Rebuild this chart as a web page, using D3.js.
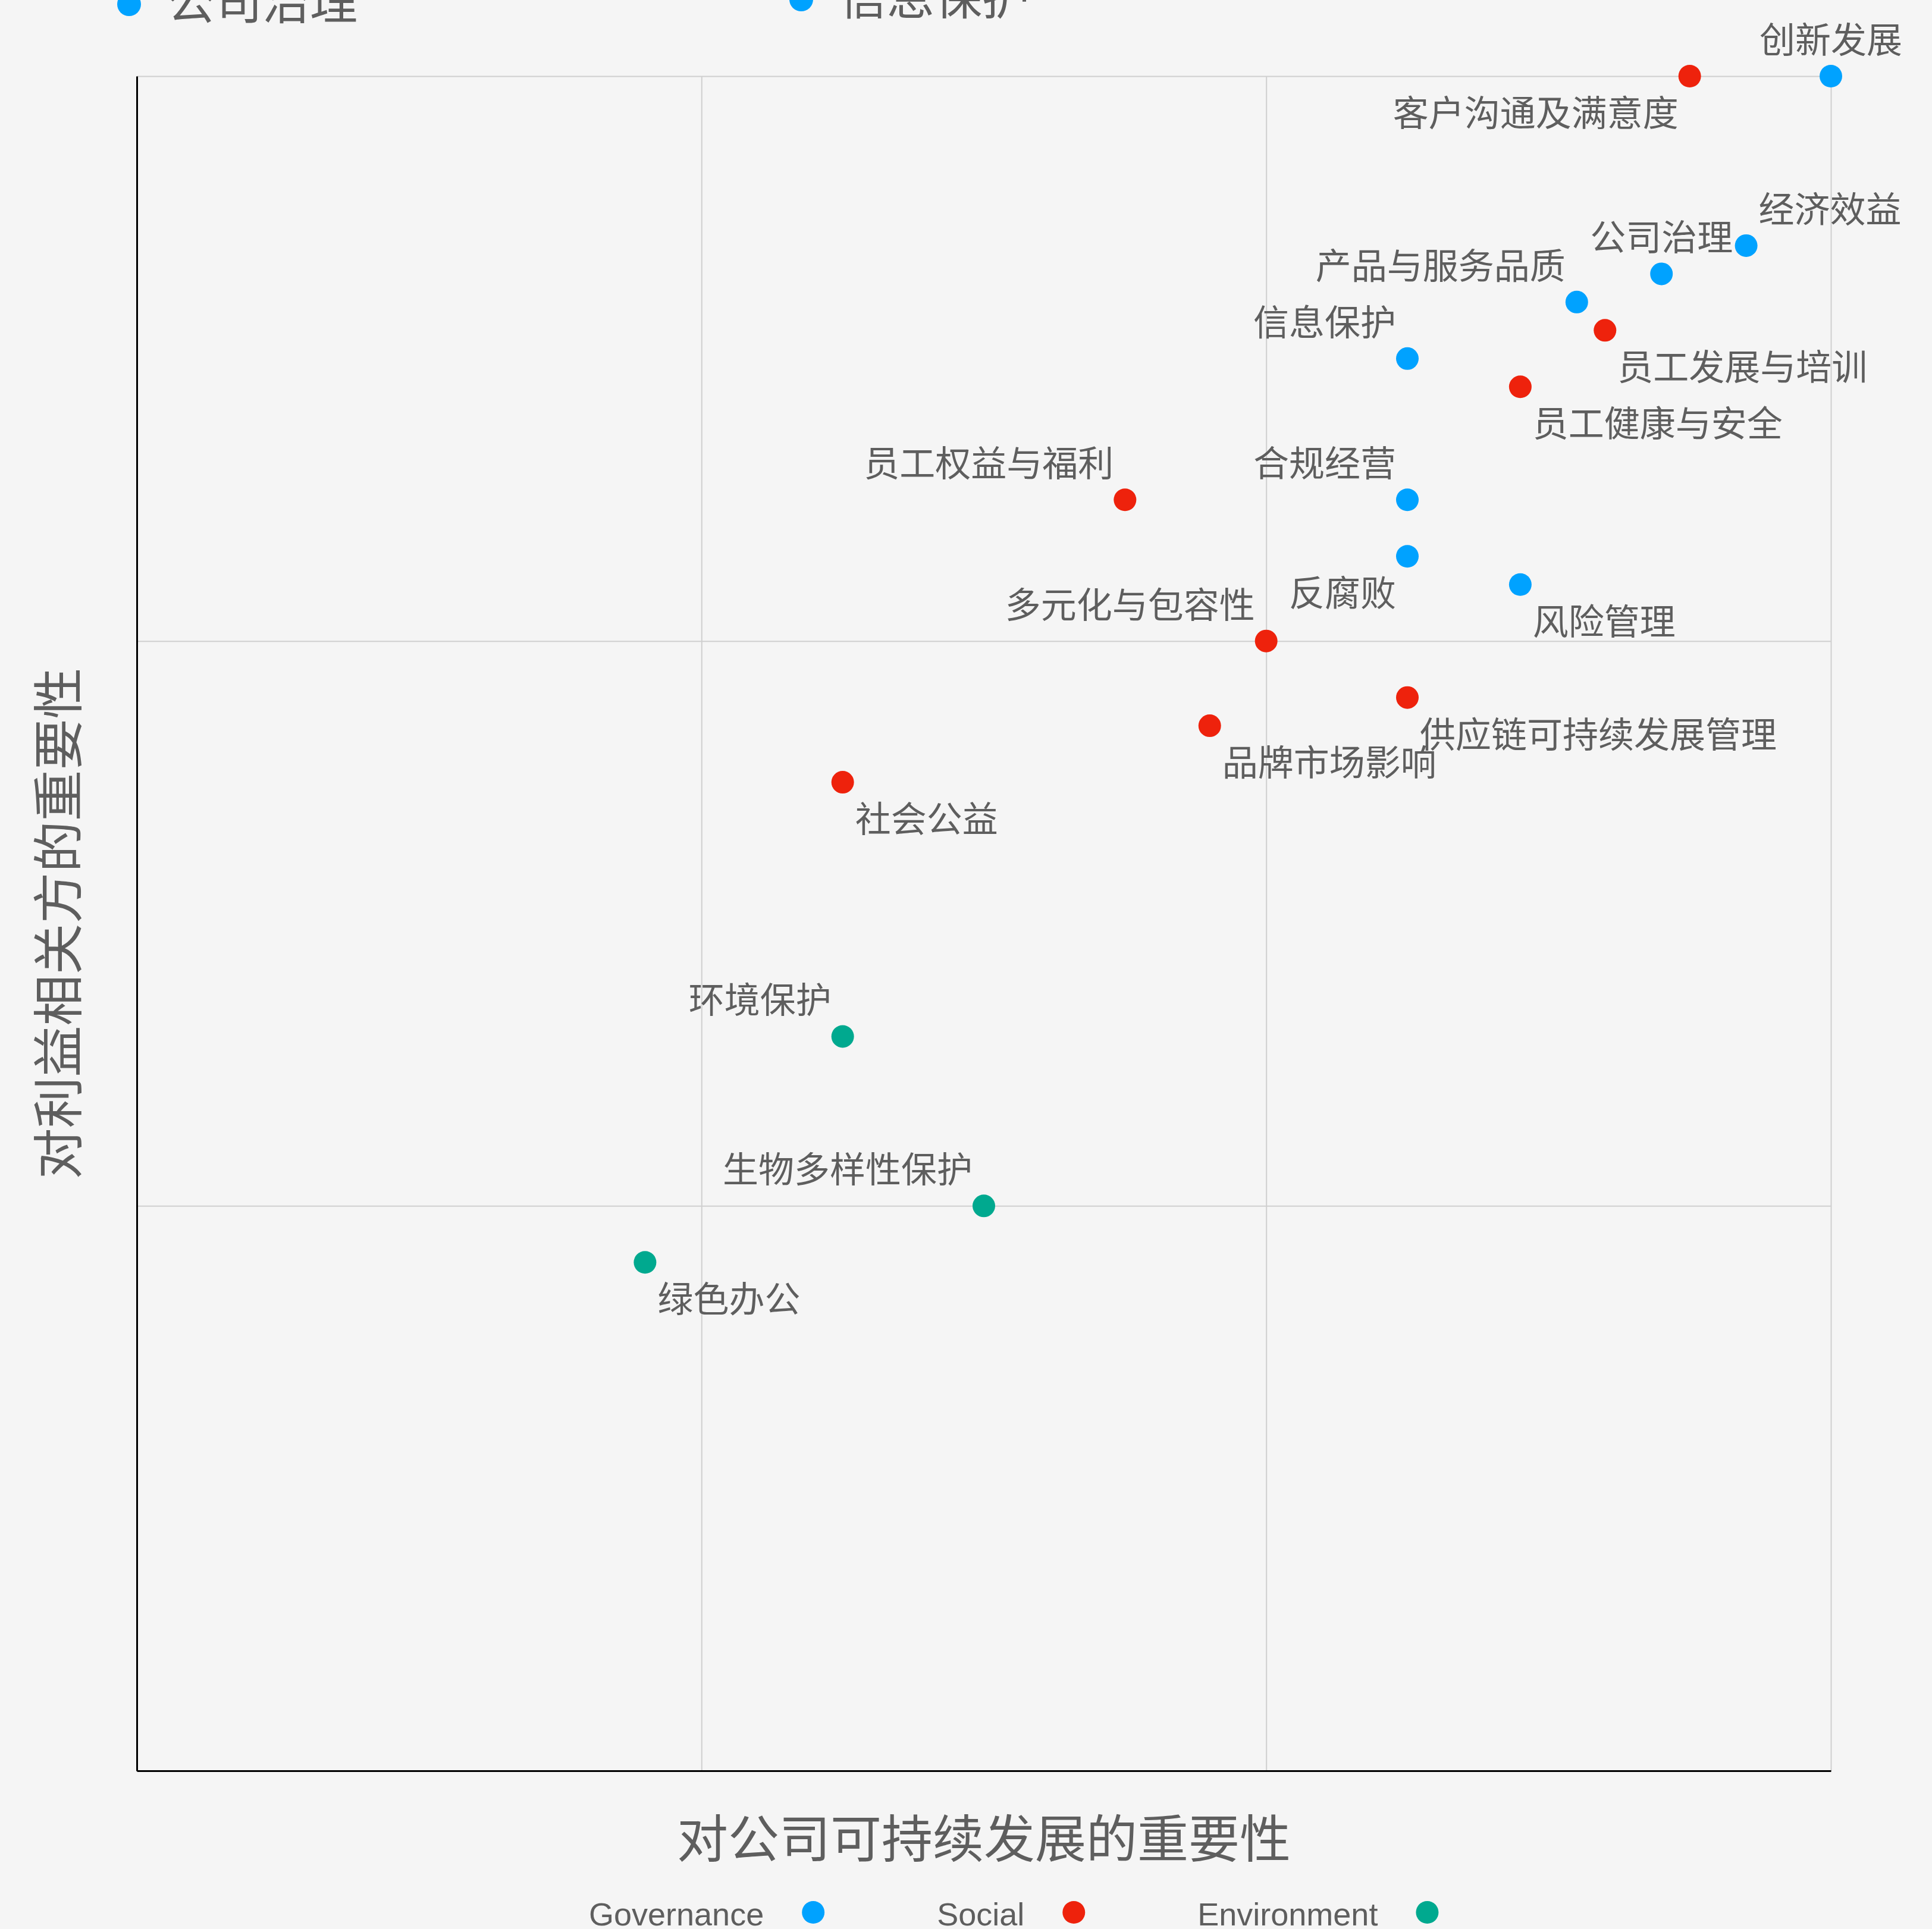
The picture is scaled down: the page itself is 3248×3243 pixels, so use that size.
<!DOCTYPE html>
<html>
<head>
<meta charset="utf-8">
<script src="https://cdn.jsdelivr.net/npm/d3@7"></script>
<style>
  html, body { margin: 0; padding: 0; background: #f5f5f5; }
  svg { display: block; }
</style>
</head>
<body>
<div class="canvas"></div>
<script>
// topic names, scores and group (G / S / E)
const topics = ['创新发展', '客户沟通及满意度', '经济效益', '公司治理', '产品与服务品质', '员工发展与培训',
  '信息保护', '员工健康与安全', '员工权益与福利', '合规经营', '反腐败', '风险管理', '多元化与包容性',
  '供应链可持续发展管理', '品牌市场影响', '社会公益', '环境保护', '生物多样性保护', '绿色办公'];
const companyScore = [3.0, 2.75, 2.85, 2.7, 2.55, 2.6, 2.25, 2.45, 1.75, 2.25, 2.25, 2.45, 2.0, 2.25, 1.9, 1.25, 1.25, 1.5, 0.9];
const stakeholderScore = [3.0, 3.0, 2.7, 2.65, 2.6, 2.55, 2.5, 2.45, 2.25, 2.25, 2.15, 2.1, 2.0, 1.9, 1.85, 1.75, 1.3, 1.0, 0.9];
const groups = ['G', 'S', 'G', 'G', 'G', 'S', 'G', 'S', 'S', 'G', 'G', 'G', 'S', 'S', 'S', 'S', 'E', 'E', 'E'];
// where each label sits around its dot
const labelPlace = ['tc', 'bl', 'tr', 'tc', 'tl', 'br', 'tl', 'br', 'tl', 'tl', 'bl', 'br', 'tl', 'br', 'br', 'br', 'tl', 'tl', 'br'];

const groupKeys = ['G', 'S', 'E'];
const groupNames = ['Governance', 'Social', 'Environment'];
const gridTicks = [1, 2, 3];
const topLegend = ['公司治理', '信息保护'];

const xTitle = '对公司可持续发展的重要性';
const yTitle = '对利益相关方的重要性';

const W = 3248, H = 3243;
const margin = { top: 128, right: 170, bottom: 266, left: 230 };
const graphWidth = W - margin.left - margin.right;
const graphHeight = H - margin.top - margin.bottom;

const cjk = '"Noto Sans CJK SC", "Noto Sans", sans-serif';
const textColor = '#5e5e5e';

const color = d3.scaleOrdinal()
  .domain(groupKeys)
  .range(['#00a2ff', '#ee220c', '#00a98f']);

const svg = d3.select('.canvas').append('svg')
  .attr('width', W)
  .attr('height', H);

svg.append('rect').attr('width', W).attr('height', H).attr('fill', '#f5f5f5');

const graph = svg.append('g')
  .attr('transform', `translate(${margin.left}, ${margin.top})`);

const x = d3.scaleLinear().domain([0, 3]).range([0, graphWidth]);
const y = d3.scaleLinear().domain([0, 3]).range([graphHeight, 0]);

// grid
const xGrid = graph.append('g')
  .attr('transform', `translate(0, ${graphHeight})`)
  .call(d3.axisBottom(x).tickValues(gridTicks).tickSize(-graphHeight).tickFormat(''));
const yGrid = graph.append('g')
  .call(d3.axisLeft(y).tickValues(gridTicks).tickSize(-graphWidth).tickFormat(''));
[xGrid, yGrid].forEach(g => {
  g.select('.domain').remove();
  g.selectAll('line').attr('stroke', '#cfcfcf').attr('stroke-width', 2);
});

// axis lines, no ticks
const xAxisGroup = graph.append('g')
  .attr('transform', `translate(0, ${graphHeight})`)
  .call(d3.axisBottom(x).tickValues([]).tickSizeOuter(0));
const yAxisGroup = graph.append('g')
  .call(d3.axisLeft(y).tickValues([]).tickSizeOuter(0));
[xAxisGroup, yAxisGroup].forEach(g => {
  g.select('.domain').attr('stroke', '#000').attr('stroke-width', 3);
});

const data = topics.map((name, i) => ({
  name,
  cx: companyScore[i],
  sy: stakeholderScore[i],
  group: groups[i],
  place: labelPlace[i]
}));

graph.selectAll('circle.dot').data(data).enter().append('circle')
  .attr('class', 'dot')
  .attr('cx', d => x(d.cx))
  .attr('cy', d => y(d.sy))
  .attr('r', 19)
  .attr('fill', d => color(d.group));

// label offsets by placement
const offX = { l: -19, r: 21, c: 0 };
const offY = { t: -39, b: 84 };
const anchor = { l: 'end', r: 'start', c: 'middle' };

graph.selectAll('text.lbl').data(data).enter().append('text')
  .attr('class', 'lbl')
  .attr('x', d => x(d.cx) + offX[d.place[1]])
  .attr('y', d => y(d.sy) + offY[d.place[0]])
  .attr('text-anchor', d => anchor[d.place[1]])
  .attr('font-family', cjk)
  .attr('font-size', 60)
  .attr('fill', textColor)
  .text(d => d.name);

// axis titles
svg.append('text')
  .attr('x', margin.left + graphWidth / 2)
  .attr('y', 3123)
  .attr('text-anchor', 'middle')
  .attr('font-family', cjk)
  .attr('font-size', 86)
  .attr('fill', textColor)
  .text(xTitle);

svg.append('text')
  .attr('transform', `translate(130, ${margin.top + graphHeight / 2}) rotate(-90)`)
  .attr('text-anchor', 'middle')
  .attr('font-family', cjk)
  .attr('font-size', 86)
  .attr('fill', textColor)
  .text(yTitle);

// bottom legend: text then dot
const legend = svg.append('g');
let lx = 990;
groupNames.forEach((name, i) => {
  const t = legend.append('text')
    .attr('x', lx)
    .attr('y', 3237)
    .attr('font-family', '"Liberation Sans", Arial, sans-serif')
    .attr('font-size', 54)
    .attr('fill', textColor)
    .text(name);
  const len = t.node().getComputedTextLength();
  const dotX = lx + len + 83;
  legend.append('circle')
    .attr('cx', dotX)
    .attr('cy', 3215)
    .attr('r', 19)
    .attr('fill', color(groupKeys[i]));
  lx = dotX + 208;
});

// clipped legend row at the very top
const topX = [217, 1347];
const topY = [7, -1];
topLegend.forEach((name, i) => {
  svg.append('circle')
    .attr('cx', topX[i])
    .attr('cy', topY[i])
    .attr('r', 20)
    .attr('fill', color('G'));
  svg.append('text')
    .attr('x', topX[i] + 64)
    .attr('y', topY[i] + 25)
    .attr('font-family', cjk)
    .attr('font-size', 80)
    .attr('fill', textColor)
    .text(name);
});
</script>
</body>
</html>
